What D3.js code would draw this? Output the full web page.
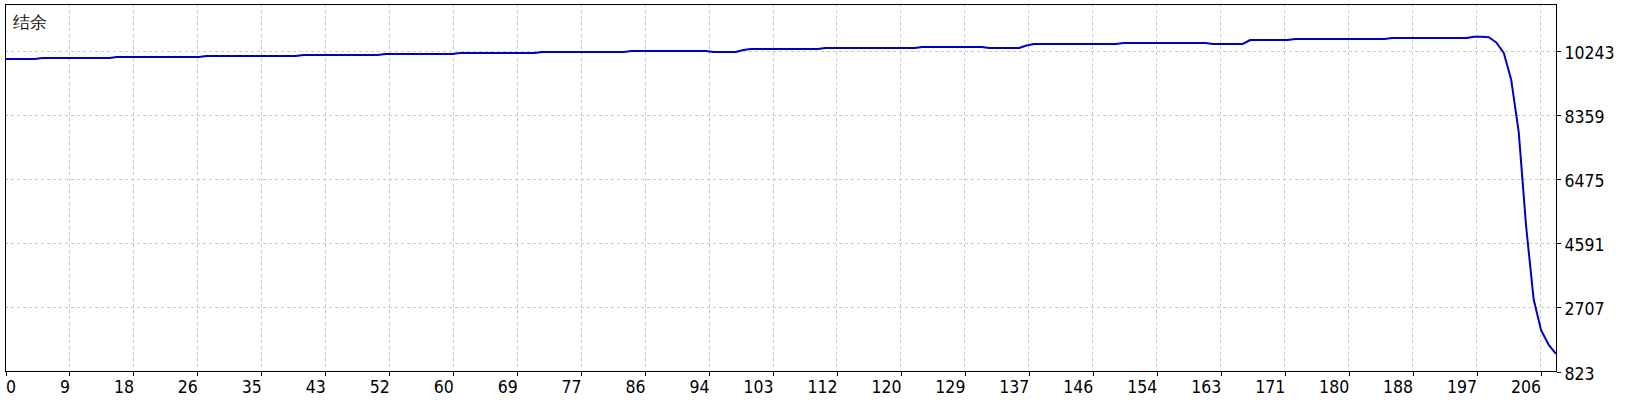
<!DOCTYPE html>
<html>
<head>
<meta charset="utf-8">
<script src="https://cdn.jsdelivr.net/npm/d3@7.9.0/dist/d3.min.js"></script>
<style>
  body { margin: 0; background: #fff; }
  svg { display: block; }
  text { font-family: "DejaVu Sans Condensed", "DejaVu Sans", sans-serif; }
</style>
</head>
<body>
<div id="chart"></div>
<script>
// balance per trade
const balance = [
  10000, 10000, 10000, 10000, 10000,
  10030, 10030, 10030, 10030, 10030, 10030, 10030, 10030, 10030, 10030,
  10059, 10059, 10059, 10059, 10059, 10059, 10059, 10059, 10059, 10059, 10059, 10059,
  10089, 10089, 10089, 10089, 10089, 10089, 10089, 10089, 10089, 10089, 10089, 10089, 10089,
  10118, 10118, 10118, 10118, 10118, 10118, 10118, 10118, 10118, 10118, 10118,
  10147, 10147, 10147, 10147, 10147, 10147, 10147, 10147, 10147, 10147,
  10177, 10177, 10177, 10177, 10177, 10177, 10177, 10177, 10177, 10177, 10177,
  10206, 10206, 10206, 10206, 10206, 10206, 10206, 10206, 10206, 10206, 10206, 10206,
  10236, 10236, 10236, 10236, 10236, 10236, 10236, 10236, 10236, 10236, 10236,
  10206, 10206, 10206, 10206,
  10265,
  10295, 10295, 10295, 10295, 10295, 10295, 10295, 10295, 10295, 10295,
  10324, 10324, 10324, 10324, 10324, 10324, 10324, 10324, 10324, 10324, 10324, 10324, 10324,
  10353, 10353, 10353, 10353, 10353, 10353, 10353, 10353, 10353,
  10324, 10324, 10324, 10324, 10324,
  10397,
  10442, 10442, 10442, 10442, 10442, 10442, 10442, 10442, 10442, 10442, 10442, 10442,
  10471, 10471, 10471, 10471, 10471, 10471, 10471, 10471, 10471, 10471, 10471, 10471,
  10442, 10442, 10442, 10442, 10442,
  10559, 10559, 10559, 10559, 10559, 10559,
  10589, 10589, 10589, 10589, 10589, 10589, 10589, 10589, 10589, 10589, 10589, 10589, 10589,
  10618, 10618, 10618, 10618, 10618, 10618, 10618, 10618, 10618, 10618, 10618,
  10656, 10656, 10640,
  10485, 10176, 9381, 7850, 5062, 2934, 2021, 1600, 1329
];

const xTicks = [0, 9, 18, 26, 35, 43, 52, 60, 69, 77, 86, 94, 103, 112, 120,
  129, 137, 146, 154, 163, 171, 180, 188, 197, 206];
const yTicks = [823, 2707, 4591, 6475, 8359, 10243];
const yDomain = [823, 11618];
const title = '结余';

const width = 1640;
const height = 400;
const plot = { left: 5, top: 4, right: 1556, bottom: 371 };
const gridStep = 63.96;
const labelFont = '"DejaVu Sans Condensed", "DejaVu Sans", sans-serif';

const svg = d3.select('#chart')
  .append('svg')
  .attr('width', width)
  .attr('height', height);

const xScale = d3.scaleLinear()
  .domain([0, balance.length - 1])
  .range([plot.left, plot.right]);

// tick labels sit on evenly spaced grid columns
const xGrid = d3.scalePoint()
  .domain(xTicks)
  .range([plot.left, plot.left + gridStep * (xTicks.length - 1)]);

const yScale = d3.scaleLinear()
  .domain(yDomain)
  .range([plot.bottom, plot.top]);

// dashed grid
const grid = svg.append('g')
  .attr('stroke', '#c8c8c8')
  .attr('stroke-width', 1)
  .attr('stroke-dasharray', '3,3')
  .attr('shape-rendering', 'crispEdges');

grid.selectAll('.vgrid')
  .data(xTicks.slice(1))
  .join('line')
  .attr('x1', d => Math.round(xGrid(d)) + 0.5)
  .attr('x2', d => Math.round(xGrid(d)) + 0.5)
  .attr('y1', plot.top)
  .attr('y2', plot.bottom);

grid.selectAll('.hgrid')
  .data(yTicks.slice(1))
  .join('line')
  .attr('x1', plot.left)
  .attr('x2', plot.right)
  .attr('y1', d => Math.round(yScale(d)) + 0.5)
  .attr('y2', d => Math.round(yScale(d)) + 0.5);

// balance line
const line = d3.line()
  .x((d, i) => xScale(i))
  .y(d => yScale(d));

svg.append('path')
  .datum(balance)
  .attr('fill', 'none')
  .attr('stroke', '#0000c0')
  .attr('stroke-width', 2)
  .attr('stroke-linejoin', 'round')
  .attr('d', line);

// frame
svg.append('rect')
  .attr('x', plot.left + 0.5)
  .attr('y', plot.top + 0.5)
  .attr('width', plot.right - plot.left)
  .attr('height', plot.bottom - plot.top)
  .attr('fill', 'none')
  .attr('stroke', '#000')
  .attr('shape-rendering', 'crispEdges');

// bottom axis
const xAxis = svg.append('g')
  .attr('transform', `translate(0.5, ${plot.bottom + 0.5})`)
  .call(d3.axisBottom(xGrid).tickSize(4).tickSizeOuter(0));

xAxis.select('.domain').remove();
xAxis.selectAll('.tick line').attr('stroke', '#000').attr('shape-rendering', 'crispEdges');
xAxis.selectAll('.tick text')
  .attr('font-size', 17.5)
  .attr('font-family', labelFont)
  .attr('fill', '#000')
  .attr('y', 21)
  .attr('dy', 0)
  .attr('text-anchor', (d, i) => i === 0 ? 'start' : 'end');

// right axis
const yAxis = svg.append('g')
  .attr('transform', `translate(${plot.right + 0.5}, 0.5)`)
  .call(d3.axisRight(yScale)
    .tickValues(yTicks)
    .tickFormat(d3.format('d'))
    .tickSize(4)
    .tickSizeOuter(0));

yAxis.select('.domain').remove();
yAxis.selectAll('.tick line').attr('stroke', '#000').attr('shape-rendering', 'crispEdges');
yAxis.selectAll('.tick text')
  .attr('font-size', 17.5)
  .attr('font-family', labelFont)
  .attr('fill', '#000')
  .attr('x', 8)
  .attr('dy', 7.5);

svg.append('text')
  .attr('x', 13)
  .attr('y', 28)
  .attr('font-family', '"Noto Sans CJK SC", sans-serif')
  .attr('font-size', 17)
  .attr('fill', '#1a1a1a')
  .text(title);
</script>
</body>
</html>
